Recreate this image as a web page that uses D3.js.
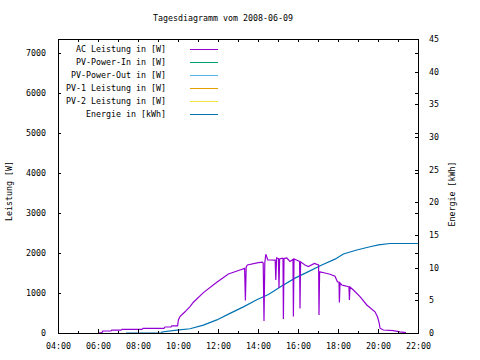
<!DOCTYPE html>
<html>
<head>
<meta charset="utf-8">
<script src="https://cdn.jsdelivr.net/npm/d3@7"></script>
<style>
  body { margin: 0; background: #fff; }
  text { font-family: "DejaVu Sans Mono", monospace; font-size: 8.3px; fill: #000; }
</style>
</head>
<body>
<svg id="chart" width="480" height="360"></svg>
<script>
// AC Leistung [W], time in decimal hours
var acHours = [6.0, 6.2, 6.24, 6.65, 6.69, 7.15, 7.2, 8.2, 8.25, 9.3, 9.35, 9.65, 9.69, 9.98, 10.02, 10.1, 10.35, 10.6, 10.77, 11.27, 11.94, 12.52, 13.1, 13.33, 13.37, 13.41, 13.47,
  14.02, 14.22, 14.26, 14.3, 14.34, 14.39, 14.49, 14.6, 14.86, 14.89, 14.93, 15.02, 15.05, 15.08, 15.22, 15.25, 15.27, 15.3, 15.44, 15.6, 15.75, 15.77, 15.8, 15.95,
  16.08, 16.1, 16.13, 16.35, 16.52, 16.82, 17.03, 17.05, 17.08, 17.35, 17.6, 17.85, 17.97, 18.05, 18.07, 18.1, 18.19, 18.35, 18.55, 18.57, 18.6, 18.77,
  19.1, 19.44, 19.85, 19.98, 20.06, 20.1, 20.27, 20.77, 21.1, 21.4];
var acWatt = [0, 10, 50, 50, 70, 70, 90, 90, 115, 115, 150, 150, 180, 180, 325, 410, 530, 660, 770, 1010, 1270, 1475, 1575, 1615, 810, 1650, 1700,
  1760, 1770, 1750, 300, 1750, 1970, 1825, 1825, 1820, 1325, 1880, 1860, 1125, 1850, 1870, 1860, 350, 1860, 1875, 1790, 1840, 410, 1850, 1820,
  1790, 615, 1780, 1700, 1660, 1740, 1700, 450, 1530, 1500, 1470, 1420, 1280, 1270, 760, 1250, 1200, 1180, 1150, 825, 1150, 1075,
  910, 700, 530, 400, 250, 120, 75, 60, 30, 10];

// Energie [kWh]
var enHours = [7.4, 9.19, 9.2, 9.94, 10.6, 11.27, 11.94, 12.6, 13.27, 13.94, 14.52, 15.19, 15.85, 16.52, 17.19, 17.85, 18.27, 18.94, 19.6, 20.02, 20.6, 22.0];
var enKwh = [0, 0, 0.15, 0.45, 0.65, 1.2, 2.0, 3.0, 4.0, 5.1, 5.9, 7.2, 8.4, 9.4, 10.4, 11.3, 12.1, 12.7, 13.2, 13.5, 13.7, 13.7];

var legendNames = ['AC Leistung in [W]', 'PV-Power-In in [W]', 'PV-Power-Out in [W]', 'PV-1 Leistung in [W]', 'PV-2 Leistung in [W]', 'Energie in [kWh]'];
var legendColors = ['#9400d3', '#009e73', '#56b4e9', '#e69f00', '#f0e442', '#0072b2'];

var leftTicks = [0, 1000, 2000, 3000, 4000, 5000, 6000, 7000];
var rightTicks = [0, 5, 10, 15, 20, 25, 30, 35, 40, 45];
var xMajor = [4, 6, 8, 10, 12, 14, 16, 18, 20, 22];

var svg = d3.select('#chart');
var L = 58, R = 418, T = 39, B = 333;

var x = d3.scaleLinear().domain([4, 22]).range([L, R]);
var y = d3.scaleLinear().domain([0, 7350]).range([B, T]);
var y2 = d3.scaleLinear().domain([0, 45]).range([B, T]);

function fmtHour(h) { return (h < 10 ? '0' : '') + h + ':00'; }

svg.append('text').attr('x', 223).attr('y', 21).attr('text-anchor', 'middle').text('Tagesdiagramm vom 2008-06-09');

// data lines
var acData = acHours.map((h, i) => [h, acWatt[i]]);
var enData = enHours.map((h, i) => [h, enKwh[i]]);

svg.append('path')
  .datum(enData)
  .attr('fill', 'none')
  .attr('stroke', legendColors[5])
  .attr('stroke-width', 1.2)
  .attr('d', d3.line().x(d => x(d[0])).y(d => y2(d[1])));

svg.append('path')
  .datum(acData)
  .attr('fill', 'none')
  .attr('stroke', legendColors[0])
  .attr('stroke-width', 1.2)
  .attr('d', d3.line().x(d => x(d[0])).y(d => y(d[1])));

// axes with inward ticks
var bottomAxis = d3.axisBottom(x).tickValues(xMajor).tickSize(-4).tickPadding(10).tickFormat(fmtHour);
svg.append('g').attr('transform', 'translate(0,' + B + ')').call(bottomAxis);
var topAxis = d3.axisTop(x).tickValues(d3.range(4, 23, 1)).tickSize(-3).tickFormat('');
svg.append('g').attr('transform', 'translate(0,' + T + ')').call(topAxis);
var minorX = d3.axisBottom(x).tickValues(d3.range(5, 22, 2)).tickSize(-2).tickFormat('');
svg.append('g').attr('transform', 'translate(0,' + B + ')').call(minorX);

var leftAxis = d3.axisLeft(y).tickValues(leftTicks).tickSize(-3).tickPadding(12).tickFormat(d3.format('d'));
svg.append('g').attr('transform', 'translate(' + L + ',0)').call(leftAxis);
var leftMirror = d3.axisRight(y).tickValues(leftTicks).tickSize(-3).tickFormat('');
svg.append('g').attr('transform', 'translate(' + R + ',0)').call(leftMirror);
var rightAxis = d3.axisRight(y2).tickValues(rightTicks).tickSize(-3).tickPadding(11).tickFormat(d3.format('d'));
svg.append('g').attr('transform', 'translate(' + R + ',0)').call(rightAxis);

svg.selectAll('.domain').remove();
svg.selectAll('.tick line').attr('stroke', '#000').attr('shape-rendering', 'crispEdges');
svg.selectAll('.tick text').style('font-family', '"DejaVu Sans Mono", monospace').style('font-size', '8.3px');

svg.append('rect')
  .attr('x', L).attr('y', T).attr('width', R - L).attr('height', B - T)
  .attr('fill', 'none').attr('stroke', '#000').attr('shape-rendering', 'crispEdges');

// axis titles
svg.append('text').attr('transform', 'translate(12,191) rotate(-90)').attr('text-anchor', 'middle').text('Leistung [W]');
svg.append('text').attr('transform', 'translate(455,194) rotate(-90)').attr('text-anchor', 'middle').text('Energie [kWh]');

// legend
var leg = svg.append('g');
legendNames.forEach(function(name, i) {
  var ly = 49 + i * 13;
  leg.append('text').attr('x', 166).attr('y', ly + 3).attr('text-anchor', 'end').text(name);
  leg.append('line').attr('x1', 190).attr('x2', 218).attr('y1', ly).attr('y2', ly)
    .attr('stroke', legendColors[i]).attr('stroke-width', 1).attr('shape-rendering', 'crispEdges');
});
</script>
</body>
</html>
